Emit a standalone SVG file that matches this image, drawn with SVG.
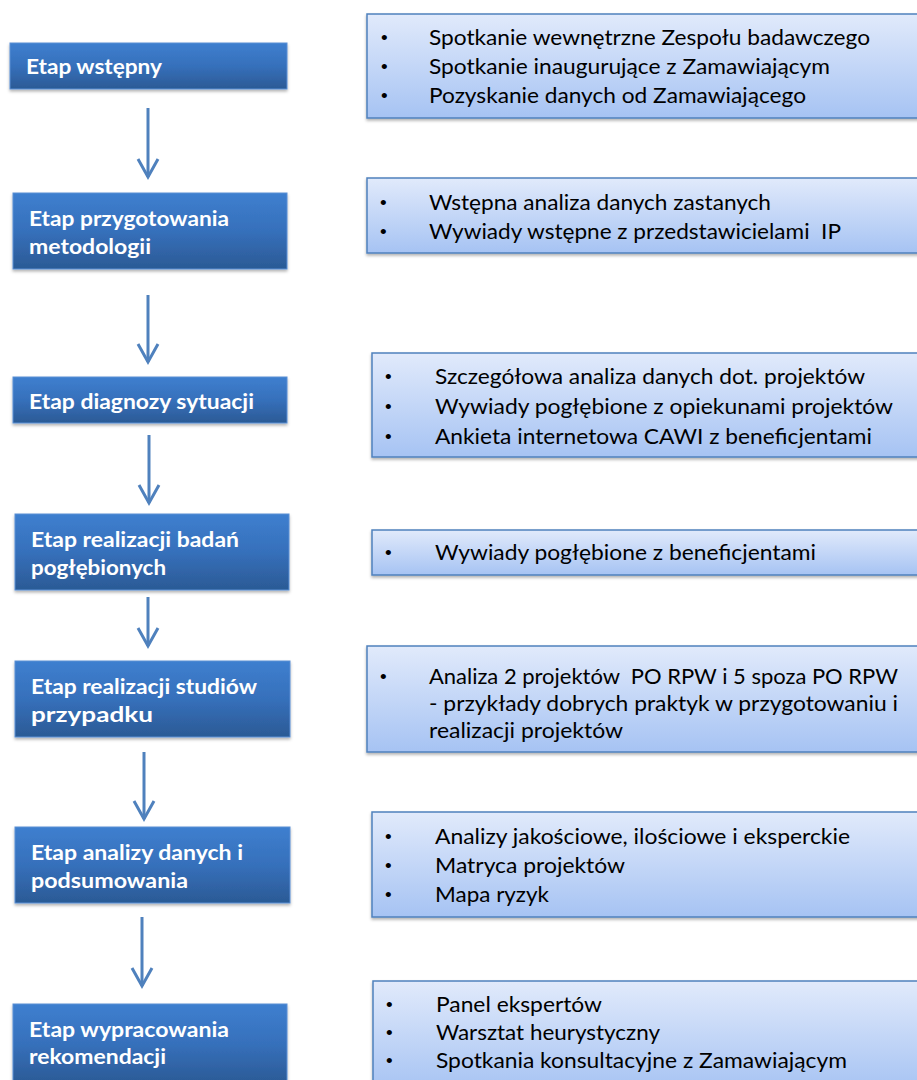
<svg xmlns="http://www.w3.org/2000/svg" width="917" height="1080" viewBox="0 0 917 1080">
<style>
.stage{fill:url(#gStage);stroke:#5a8fd4;stroke-width:1}
.act{fill:url(#gAct);stroke:#4f81bd;stroke-width:1.5}
.st{font-family:Lato,"Liberation Sans",sans-serif;font-weight:bold;font-size:21px;fill:#ffffff}
.at{font-family:Lato,"Liberation Sans",sans-serif;font-size:21px;fill:#000000}
.bl{font-family:"Liberation Sans",sans-serif;font-size:19px;fill:#000000}
.conn{stroke:#4f81bd;stroke-width:3;fill:none}
</style>
<defs>
<linearGradient id="gStage" x1="0" y1="0" x2="0" y2="1">
<stop offset="0" stop-color="#3e7fcf"/>
<stop offset="0.5" stop-color="#3670bb"/>
<stop offset="1" stop-color="#2b5a95"/>
</linearGradient>
<linearGradient id="gAct" x1="0" y1="0" x2="0" y2="1">
<stop offset="0" stop-color="#e1eafb"/>
<stop offset="1" stop-color="#a6c3f3"/>
</linearGradient>
<filter id="sh" x="-5%" y="-10%" width="110%" height="130%">
<feDropShadow dx="0" dy="2" stdDeviation="1.5" flood-color="#000" flood-opacity="0.3"/>
</filter>
<marker id="arr" markerUnits="userSpaceOnUse" viewBox="-22 -13 26 26" markerWidth="26" markerHeight="26" refX="0" refY="0" orient="auto">
<path d="M-18,-10 L0,0 L-18,10" fill="none" stroke="#4f81bd" stroke-width="3"/>
</marker>
</defs>
<rect width="917" height="1080" fill="#ffffff"/>

<g id="connectors">
<line class="conn" x1="148" y1="108" x2="148" y2="177" marker-end="url(#arr)"/>
<line class="conn" x1="148" y1="295" x2="148" y2="362" marker-end="url(#arr)"/>
<line class="conn" x1="149" y1="435" x2="149" y2="503" marker-end="url(#arr)"/>
<line class="conn" x1="148" y1="597" x2="148" y2="646" marker-end="url(#arr)"/>
<line class="conn" x1="144" y1="752" x2="144" y2="819" marker-end="url(#arr)"/>
<line class="conn" x1="142" y1="917" x2="142" y2="986" marker-end="url(#arr)"/>
</g>

<g id="stage1">
<rect class="stage" x="10" y="43" width="277" height="46" filter="url(#sh)"/>
<text class="st" x="26" y="74" textLength="136" lengthAdjust="spacingAndGlyphs">Etap wstępny</text>
</g>
<g id="act1">
<rect class="act" x="367" y="14" width="560" height="104" filter="url(#sh)"/>
<text class="bl" x="381" y="44">•</text>
<text class="bl" x="381" y="73">•</text>
<text class="bl" x="381" y="102">•</text>
<text class="at" x="429" y="45" textLength="441" lengthAdjust="spacingAndGlyphs">Spotkanie wewnętrzne Zespołu badawczego</text>
<text class="at" x="429" y="74" textLength="401" lengthAdjust="spacingAndGlyphs">Spotkanie inaugurujące z Zamawiającym</text>
<text class="at" x="429" y="103" textLength="377" lengthAdjust="spacingAndGlyphs">Pozyskanie danych od Zamawiającego</text>
</g>

<g id="stage2">
<rect class="stage" x="13" y="193" width="274" height="76" filter="url(#sh)"/>
<text class="st" x="29" y="226" textLength="200" lengthAdjust="spacingAndGlyphs">Etap przygotowania</text>
<text class="st" x="29" y="254" textLength="122" lengthAdjust="spacingAndGlyphs">metodologii</text>
</g>
<g id="act2">
<rect class="act" x="367" y="178" width="560" height="75" filter="url(#sh)"/>
<text class="bl" x="380" y="209">•</text>
<text class="bl" x="380" y="238">•</text>
<text class="at" x="429" y="210" textLength="342" lengthAdjust="spacingAndGlyphs">Wstępna analiza danych zastanych</text>
<text class="at" x="429" y="239" textLength="412" lengthAdjust="spacingAndGlyphs" xml:space="preserve">Wywiady wstępne z przedstawicielami  IP</text>
</g>

<g id="stage3">
<rect class="stage" x="13" y="377" width="274" height="46" filter="url(#sh)"/>
<text class="st" x="29" y="409" textLength="225" lengthAdjust="spacingAndGlyphs">Etap diagnozy sytuacji</text>
</g>
<g id="act3">
<rect class="act" x="372" y="353" width="560" height="104" filter="url(#sh)"/>
<text class="bl" x="385" y="383">•</text>
<text class="bl" x="385" y="413">•</text>
<text class="bl" x="385" y="443">•</text>
<text class="at" x="435" y="384" textLength="430" lengthAdjust="spacingAndGlyphs">Szczegółowa analiza danych dot. projektów</text>
<text class="at" x="435" y="414" textLength="458" lengthAdjust="spacingAndGlyphs">Wywiady pogłębione z opiekunami projektów</text>
<text class="at" x="435" y="444" textLength="437" lengthAdjust="spacingAndGlyphs">Ankieta internetowa CAWI z beneficjentami</text>
</g>

<g id="stage4">
<rect class="stage" x="15" y="514" width="274" height="76" filter="url(#sh)"/>
<text class="st" x="31" y="547" textLength="208" lengthAdjust="spacingAndGlyphs">Etap realizacji badań</text>
<text class="st" x="31" y="575" textLength="135" lengthAdjust="spacingAndGlyphs">pogłębionych</text>
</g>
<g id="act4">
<rect class="act" x="372" y="530" width="560" height="45" filter="url(#sh)"/>
<text class="bl" x="385" y="559">•</text>
<text class="at" x="435" y="560" textLength="381" lengthAdjust="spacingAndGlyphs">Wywiady pogłębione z beneficjentami</text>
</g>

<g id="stage5">
<rect class="stage" x="15" y="661" width="275" height="76" filter="url(#sh)"/>
<text class="st" x="31" y="694" textLength="226" lengthAdjust="spacingAndGlyphs">Etap realizacji studiów</text>
<text class="st" x="31" y="722" textLength="122" lengthAdjust="spacingAndGlyphs">przypadku</text>
</g>
<g id="act5">
<rect class="act" x="367" y="646" width="560" height="106" filter="url(#sh)"/>
<text class="bl" x="380" y="683">•</text>
<text class="at" x="429" y="684" textLength="469" lengthAdjust="spacingAndGlyphs" xml:space="preserve">Analiza 2 projektów  PO RPW i 5 spoza PO RPW</text>
<text class="at" x="429" y="711" textLength="469" lengthAdjust="spacingAndGlyphs">- przykłady dobrych praktyk w przygotowaniu i</text>
<text class="at" x="429" y="738" textLength="194" lengthAdjust="spacingAndGlyphs">realizacji projektów</text>
</g>

<g id="stage6">
<rect class="stage" x="15" y="827" width="275" height="76" filter="url(#sh)"/>
<text class="st" x="31" y="860" textLength="212" lengthAdjust="spacingAndGlyphs">Etap analizy danych i</text>
<text class="st" x="31" y="888" textLength="157" lengthAdjust="spacingAndGlyphs">podsumowania</text>
</g>
<g id="act6">
<rect class="act" x="372" y="812" width="560" height="105" filter="url(#sh)"/>
<text class="bl" x="385" y="843">•</text>
<text class="bl" x="385" y="872">•</text>
<text class="bl" x="385" y="901">•</text>
<text class="at" x="435" y="844" textLength="415" lengthAdjust="spacingAndGlyphs">Analizy jakościowe, ilościowe i eksperckie</text>
<text class="at" x="435" y="873" textLength="190" lengthAdjust="spacingAndGlyphs">Matryca projektów</text>
<text class="at" x="435" y="902" textLength="114" lengthAdjust="spacingAndGlyphs">Mapa ryzyk</text>
</g>

<g id="stage7">
<rect class="stage" x="13" y="1004" width="274" height="80" filter="url(#sh)"/>
<text class="st" x="29" y="1037" textLength="200" lengthAdjust="spacingAndGlyphs">Etap wypracowania</text>
<text class="st" x="29" y="1064" textLength="137" lengthAdjust="spacingAndGlyphs">rekomendacji</text>
</g>
<g id="act7">
<rect class="act" x="373" y="981" width="560" height="110" filter="url(#sh)"/>
<text class="bl" x="386" y="1011">•</text>
<text class="bl" x="386" y="1039">•</text>
<text class="bl" x="386" y="1067">•</text>
<text class="at" x="436" y="1012" textLength="166" lengthAdjust="spacingAndGlyphs">Panel ekspertów</text>
<text class="at" x="436" y="1040" textLength="224" lengthAdjust="spacingAndGlyphs">Warsztat heurystyczny</text>
<text class="at" x="436" y="1068" textLength="411" lengthAdjust="spacingAndGlyphs">Spotkania konsultacyjne z Zamawiającym</text>
</g>
</svg>
